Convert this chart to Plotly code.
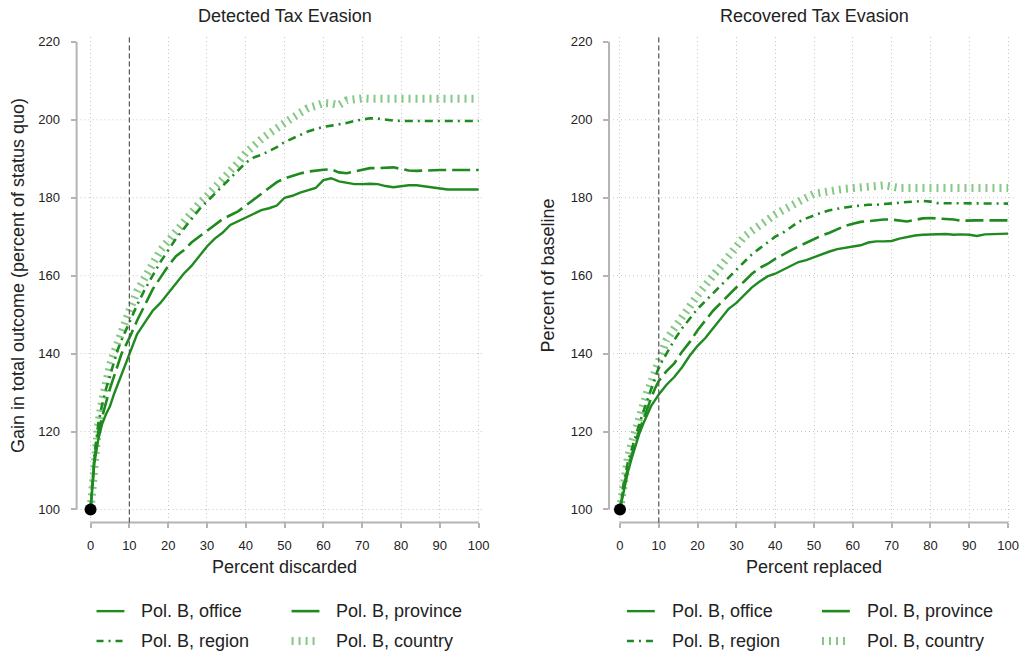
import plotly.graph_objects as go

# Share of units discarded / replaced (percent)
pct = [0, 1, 2, 3, 4, 5, 6, 7, 8, 9, 10] + list(range(12, 101, 2))

# Detected tax evasion: gain in total outcome (percent of status quo)
det_office = [100, 112, 118, 122, 124.5, 126.5, 129.5, 132, 134.5, 137.5, 140,
              145, 148, 151, 153, 155.5, 158, 160.5, 162.5, 165, 167.5,
              169.5, 171, 173, 174, 175, 176, 176.8, 177.3, 178, 180,
              180.5, 181.3, 182, 182.5, 184.5, 185, 184.2, 183.8, 183.5, 183.5,
              183.6, 183.5, 183, 182.7, 182.9, 183.2, 183.2, 182.9, 182.7, 182.4,
              182.1, 182.1, 182.1, 182.1, 182.1]
det_province = [100, 113, 120, 124, 127.5, 131, 134, 137.5, 140, 142, 144,
                148.5, 152.5, 156.5, 159.5, 162.5, 165, 166.5, 168.5, 170, 171.5,
                173, 174.5, 175.5, 176.5, 178, 179.5, 181, 182.5, 184, 185,
                185.7, 186.2, 186.7, 187, 187.2, 187.3, 186.5, 186.3, 186.8, 187.3,
                187.6, 187.6, 187.7, 187.8, 187.4, 187, 186.9, 187, 187, 187.1,
                187.1, 187.1, 187.1, 187.1, 187.1]
det_region = [100, 114, 122, 127, 131, 134.5, 138, 141, 143.5, 146, 148,
              152.5, 156.5, 160, 163.5, 166.5, 169.5, 172, 174.5, 177, 179,
              181, 183, 185, 187, 189, 190.3, 191, 192, 193, 194.3,
              195.2, 196.2, 197, 197.6, 198.2, 198.5, 198.8, 199.2, 199.7, 200.1,
              200.4, 200.3, 200, 199.8, 199.7, 199.7, 199.7, 199.7, 199.7, 199.7,
              199.7, 199.7, 199.7, 199.7, 199.7]
det_country = [100, 114, 122, 128, 133, 137, 140, 143, 145.5, 148.5, 151,
               156, 160, 163, 166.5, 169, 171.5, 173.5, 176, 178.5, 180.5,
               182.5, 185, 187, 189, 191.5, 193.5, 195, 196.5, 198, 199.3,
               200.5, 201.8, 203, 203.6, 204.3, 204.2, 203.8, 205, 205.5, 205.5,
               205.4, 205.4, 205.4, 205.4, 205.4, 205.4, 205.4, 205.4, 205.4, 205.4,
               205.4, 205.4, 205.4, 205.4, 205.4]

# Recovered tax evasion (percent of baseline)
rec_office = [100, 105, 109.5, 113, 116.5, 119.5, 122, 124.5, 126.5, 128, 129.5,
              132, 134, 136.5, 139.5, 142, 144, 146.5, 149, 151.5, 153,
              155, 157, 158.5, 159.8, 160.5, 161.5, 162.5, 163.5, 164, 164.8,
              165.5, 166.2, 166.8, 167.2, 167.5, 167.8, 168.5, 168.8, 168.8, 168.9,
              169.5, 170, 170.3, 170.5, 170.6, 170.7, 170.7, 170.5, 170.6, 170.5,
              170.2, 170.6, 170.7, 170.8, 170.8]
rec_province = [100, 106, 110.5, 114, 117.5, 120.5, 123, 126, 128.5, 131, 133,
                135.5, 137.5, 140.5, 143, 146, 148.5, 151, 153, 155, 157,
                158.5, 160.5, 162, 163, 164.3, 165.5, 166.5, 167.5, 168.5, 169.5,
                170.3, 171, 172, 172.8, 173.3, 173.8, 174, 174.2, 174.4, 174.4,
                174.2, 173.9, 174.3, 174.7, 174.8, 174.7, 174.6, 174.4, 174.1, 174.2,
                174.2, 174.2, 174.2, 174.2, 174.2]
rec_region = [100, 107, 112, 115.5, 119, 122, 125, 128, 130.5, 134, 136.5,
              140, 143.5, 146.5, 149, 151.5, 153.5, 155.5, 157.5, 159.5, 161.5,
              163.5, 165.5, 167, 168.5, 170, 171, 172.5, 173.8, 174.7, 175.5,
              176.2, 176.8, 177.2, 177.5, 177.8, 178, 178.2, 178.2, 178.4, 178.6,
              178.8, 178.9, 179, 179.2, 179, 178.6, 178.6, 178.6, 178.6, 178.5,
              178.5, 178.5, 178.5, 178.5, 178.5]
rec_country = [100, 107.5, 113, 117, 120.5, 124, 127, 130, 132.5, 135.5, 139,
               143.5, 146.5, 149.5, 152.5, 155, 157.5, 160, 162.5, 165, 167.5,
               170, 171.5, 173, 174.5, 175.7, 176.8, 178, 179, 180, 181,
               181.5, 181.8, 182, 182.3, 182.6, 182.8, 182.9, 183, 183.2, 182.7,
               182.5, 182.5, 182.5, 182.5, 182.5, 182.5, 182.5, 182.5, 182.5, 182.5,
               182.5, 182.5, 182.5, 182.5, 182.5]

x_ticks = list(range(0, 101, 10))
y_ticks = [100, 120, 140, 160, 180, 200, 220]
cutoff = 10

series_names = ["Pol. B, office", "Pol. B, province", "Pol. B, region", "Pol. B, country"]

W, H = 1029, 656
FONT = "Liberation Sans, Arial, sans-serif"
GREEN = "#1f8a1f"
LIGHT = "#86c886"
AXIS_GRAY = "#b4b4b4"
GRID_GRAY = "#c4c4c4"

styles = {
    "office": dict(color=GREEN, width=2.4, dash="solid"),
    "province": dict(color=GREEN, width=2.6, dash="18px,6px"),
    "region": dict(color=GREEN, width=2.6, dash="8px,5px,2px,5px"),
    "country": dict(color=LIGHT, width=8, dash="2px,5px"),
}

fig = go.Figure()

panels = [
    ("x", "y", [det_country, det_office, det_province, det_region]),
    ("x2", "y2", [rec_country, rec_office, rec_province, rec_region]),
]
order = ["country", "office", "province", "region"]
for xa, ya, series in panels:
    for key, vals in zip(order, series):
        fig.add_trace(go.Scatter(x=pct, y=vals, mode="lines", line=styles[key],
                                 xaxis=xa, yaxis=ya, showlegend=False,
                                 hoverinfo="skip"))
    fig.add_trace(go.Scatter(x=[pct[0]], y=[series[1][0]], mode="markers",
                             marker=dict(color="black", size=12),
                             xaxis=xa, yaxis=ya, showlegend=False))

# Axis geometry (pixels): 0 -> 91 / 623, 100 -> 481 / 1013, y 100 -> 509, 220 -> 40
ppx = 3.9
ppy = (509 - 40) / 120.0
y_lo = 100 - (522 - 509) / ppy
y_hi = 220 + (40 - 35) / ppy
ydom = [(H - 522) / H, (H - 35) / H]


def xaxis_cfg(left_px, zero_px):
    lo = -(zero_px - left_px) / ppx
    hi = 101.5
    right_px = zero_px + hi * ppx
    return dict(domain=[left_px / W, right_px / W], range=[lo, hi],
                tickvals=x_ticks, ticks="outside", ticklen=5, tickwidth=1.5,
                tickcolor=AXIS_GRAY, showline=False, zeroline=False,
                showgrid=True, gridcolor=GRID_GRAY, griddash="1px,3px", gridwidth=1,
                tickfont=dict(size=13, color="#222", family=FONT),
                ticklabelstandoff=6, fixedrange=True)


def yaxis_cfg(anchor):
    return dict(domain=ydom, range=[y_lo, y_hi], anchor=anchor,
                tickvals=y_ticks, ticks="outside", ticklen=5, tickwidth=1.5,
                tickcolor=AXIS_GRAY, showline=False, zeroline=False, showgrid=False,
                tickfont=dict(size=13, color="#222", family=FONT),
                ticklabelstandoff=8, fixedrange=True)


fig.update_layout(
    width=W, height=H, margin=dict(l=0, r=0, t=0, b=0),
    paper_bgcolor="white", plot_bgcolor="white",
    xaxis=dict(anchor="y", **xaxis_cfg(77, 91)),
    yaxis=yaxis_cfg("x"),
    xaxis2=dict(anchor="y2", **xaxis_cfg(612, 623)),
    yaxis2=yaxis_cfg("x2"),
    showlegend=False,
    font=dict(family=FONT, color="#222"),
)

shapes = []
for xa, ya in [("x", "y"), ("x2", "y2")]:
    # horizontal dotted grid
    for yv in y_ticks[:-1]:
        shapes.append(dict(type="line", xref=f"{xa} domain", yref=ya, x0=0, x1=1,
                           y0=yv, y1=yv, line=dict(color=GRID_GRAY, width=1, dash="1px,3px"),
                           layer="below"))
    # axis lines spanning the tick range only
    shapes.append(dict(type="line", xref=f"{xa} domain", yref=ya, x0=0, x1=0,
                       y0=y_ticks[0], y1=y_ticks[-1], line=dict(color=AXIS_GRAY, width=2)))
    shapes.append(dict(type="line", xref=xa, yref=f"{ya} domain", x0=x_ticks[0], x1=x_ticks[-1],
                       y0=0, y1=0, line=dict(color=AXIS_GRAY, width=2)))
    # reference line at the 10 percent cutoff
    shapes.append(dict(type="line", xref=xa, yref=f"{ya} domain", x0=cutoff, x1=cutoff,
                       y0=0, y1=1, line=dict(color="#555", width=1.2, dash="5px,3px")))

annotations = []
titles = [("Detected Tax Evasion", 286, "Percent discarded",
           "Gain in total outcome (percent of status quo)", 18),
          ("Recovered Tax Evasion", 818, "Percent replaced", "Percent of baseline", 551)]
for title, cx, xt, yt, yx in titles:
    annotations.append(dict(text=title, x=cx / W, y=1 - 14 / H, xref="paper", yref="paper",
                            showarrow=False, xanchor="center", yanchor="middle",
                            font=dict(size=18, family=FONT, color="#222")))
    annotations.append(dict(text=xt, x=cx / W, y=1 - 567 / H, xref="paper", yref="paper",
                            showarrow=False, xanchor="center", yanchor="middle",
                            font=dict(size=18, family=FONT, color="#222")))
    annotations.append(dict(text=yt, x=yx / W, y=1 - 274 / H, xref="paper", yref="paper",
                            showarrow=False, xanchor="center", yanchor="middle", textangle=-90,
                            font=dict(size=18, family=FONT, color="#222")))

# Legends below each panel
legend_keys = ["office", "province", "region", "country"]
for off in (0, 533):
    for i, (name, key) in enumerate(zip(series_names, legend_keys)):
        col, row = i % 2, i // 2
        sx0 = 97 + off + col * 196
        sy = 611 + row * 30
        st = dict(styles[key])
        if key == "province":
            st["dash"] = "solid"
        if key == "region":
            st["dash"] = "7px,5px,2px,5px"
        shapes.append(dict(type="line", xref="paper", yref="paper",
                           x0=sx0 / W, x1=(sx0 + 28) / W, y0=1 - sy / H, y1=1 - sy / H,
                           line=st))
        annotations.append(dict(text=name, x=(sx0 + 43) / W, y=1 - sy / H,
                                xref="paper", yref="paper", showarrow=False,
                                xanchor="left", yanchor="middle",
                                font=dict(size=18, family=FONT, color="#222")))

fig.update_layout(shapes=shapes, annotations=annotations)
fig.write_html("out.html")
